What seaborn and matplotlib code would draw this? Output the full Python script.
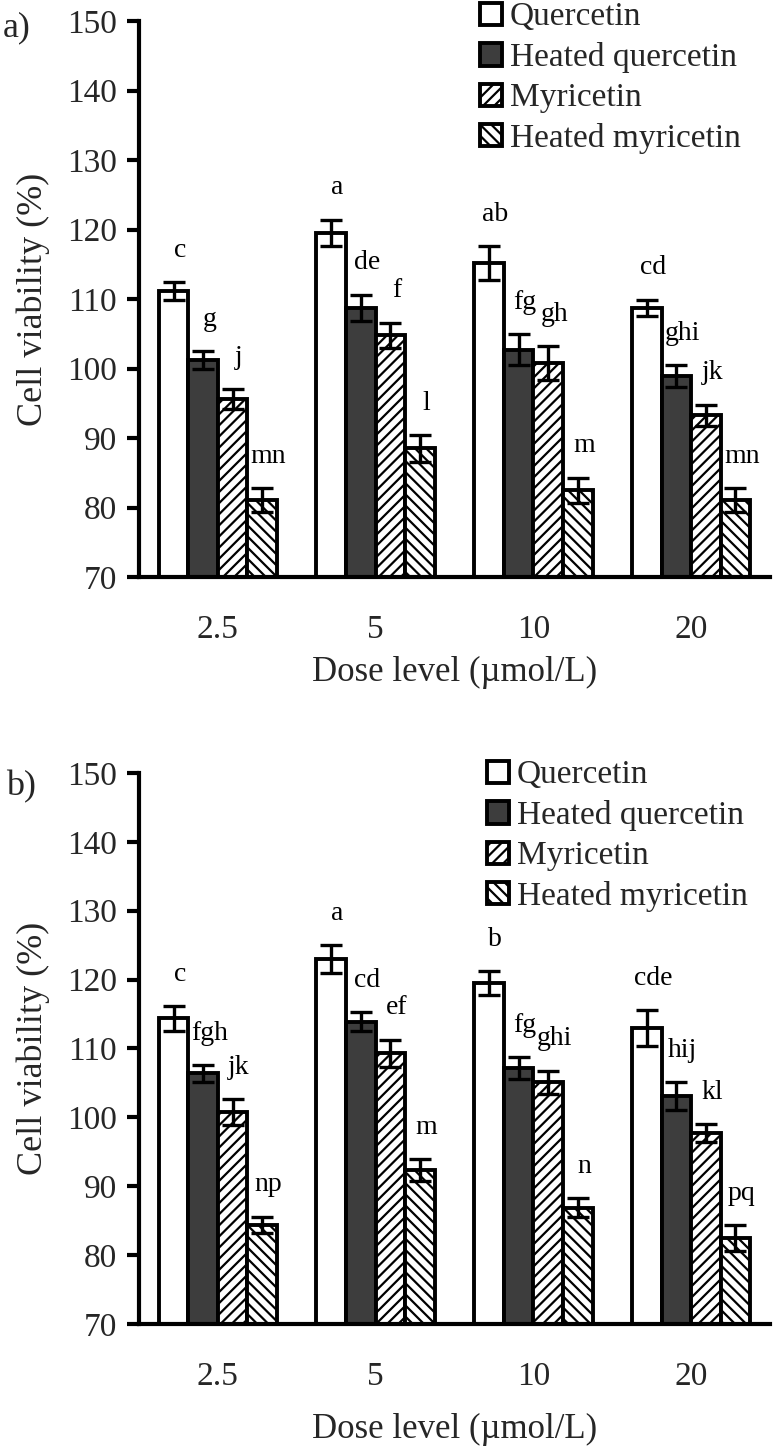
import numpy as np
import pandas as pd
import matplotlib
matplotlib.use("Agg")
import matplotlib.pyplot as plt
import seaborn as sns

# --- data ---
doses = ["2.5", "5", "10", "20"]
series = ["Quercetin", "Heated quercetin", "Myricetin", "Heated myricetin"]

# panel a)
a_quercetin = [111.1, 119.5, 115.2, 108.7]
a_heated_quercetin = [101.2, 108.7, 102.7, 98.9]
a_myricetin = [95.6, 104.8, 100.8, 93.3]
a_heated_myricetin = [81.1, 88.5, 82.5, 81.1]
a_err_quercetin = [1.3, 1.9, 2.4, 1.2]
a_err_heated_quercetin = [1.3, 1.9, 2.2, 1.6]
a_err_myricetin = [1.4, 1.8, 2.4, 1.5]
a_err_heated_myricetin = [1.7, 1.9, 1.8, 1.7]
a_letters = [["c", "a", "ab", "cd"],
             ["g", "de", "fg", "ghi"],
             ["j", "f", "gh", "jk"],
             ["mn", "l", "m", "mn"]]

# panel b)
b_quercetin = [114.4, 123.0, 119.5, 113.0]
b_heated_quercetin = [106.4, 113.9, 107.2, 103.1]
b_myricetin = [100.8, 109.3, 105.1, 97.7]
b_heated_myricetin = [84.4, 92.4, 86.9, 82.5]
b_err_quercetin = [1.8, 2.0, 1.7, 2.6]
b_err_heated_quercetin = [1.2, 1.4, 1.6, 2.0]
b_err_myricetin = [1.9, 2.0, 1.7, 1.3]
b_err_heated_myricetin = [1.2, 1.6, 1.4, 1.9]
b_letters = [["c", "a", "b", "cde"],
             ["fgh", "cd", "fg", "hij"],
             ["jk", "ef", "ghi", "kl"],
             ["np", "m", "n", "pq"]]

fills = ["white", "#3d3d3d", "white", "white"]
hatches = [None, None, "///", "\\\\\\"]

sns.set_theme(style="white")
plt.rcParams["font.family"] = ["Liberation Serif", "DejaVu Serif"]
plt.rcParams["hatch.linewidth"] = 1.6
plt.rcParams["hatch.color"] = "black"


def draw_panel(ax, values, errors, letters, legend_anchor):
    df = pd.DataFrame({
        "dose": np.repeat([doses], len(series), axis=0).ravel(),
        "series": np.repeat(series, len(doses)),
        "value": np.ravel(values),
    })
    sns.barplot(data=df, x="dose", y="value", hue="series", order=doses,
                hue_order=series, palette=fills, width=0.75, errorbar=None,
                edgecolor="black", linewidth=2.8, ax=ax, legend=False)

    bar_groups = list(ax.containers)
    for i, cont in enumerate(bar_groups):
        xs = []
        for bar in cont.patches:
            bar.set_hatch(hatches[i])
            bar.set_edgecolor("black")
            xs.append(bar.get_x() + bar.get_width() / 2)
        ax.errorbar(xs, values[i], yerr=errors[i], fmt="none", ecolor="black",
                    elinewidth=2.4, capsize=8, capthick=2.4, zorder=5)
        for x, v, e, t in zip(xs, values[i], errors[i], letters[i]):
            ax.text(x + 0.04, v + e + 4.6, t, ha="center", va="center",
                    fontsize=20, color="black")

    ax.set_ylim(70, 150)
    ax.set_xlim(-0.5, 3.5)
    ax.set_yticks(range(70, 151, 10))
    for side in ["top", "right"]:
        ax.spines[side].set_visible(False)
    for side in ["left", "bottom"]:
        ax.spines[side].set_linewidth(3.0)
        ax.spines[side].set_color("black")
    ax.tick_params(axis="y", length=9, width=3.0, pad=7, labelsize=24,
                   direction="out", left=True, color="black")
    ax.tick_params(axis="x", length=0, pad=27, labelsize=24)

    ax.set_ylabel("Cell viability (%)", fontsize=26, va="center")
    ax.yaxis.set_label_coords(-0.168, 0.5)

    ax.legend(handles=bar_groups, labels=series, loc="upper left",
              bbox_to_anchor=legend_anchor, bbox_transform=ax.figure.transFigure,
              frameon=False, borderpad=0, borderaxespad=0, fontsize=24,
              handlelength=0.65, handleheight=0.65, handletextpad=0.25,
              labelspacing=0.29)


fig = plt.figure(figsize=(7.74, 14.51), dpi=100)
ax_a = fig.add_axes([0.1796, 0.6023, 0.8152, 0.3832])
ax_b = fig.add_axes([0.1796, 0.0875, 0.8152, 0.3798])

draw_panel(ax_a,
           [a_quercetin, a_heated_quercetin, a_myricetin, a_heated_myricetin],
           [a_err_quercetin, a_err_heated_quercetin, a_err_myricetin, a_err_heated_myricetin],
           a_letters, (480 / 774, 1 - 2 / 1451))
draw_panel(ax_b,
           [b_quercetin, b_heated_quercetin, b_myricetin, b_heated_myricetin],
           [b_err_quercetin, b_err_heated_quercetin, b_err_myricetin, b_err_heated_myricetin],
           b_letters, (487 / 774, 1 - 760 / 1451))

ax_a.set_xlabel("Dose level (\u00b5mol/L)", fontsize=25, va="center")
ax_a.xaxis.set_label_coords(0.5, -0.171)
ax_b.set_xlabel("Dose level (\u00b5mol/L)", fontsize=25, va="center")
ax_b.xaxis.set_label_coords(0.5, -0.192)

fig.text(17 / 774, 1 - 28 / 1451, "a)", fontsize=26, ha="center", va="center")
fig.text(21 / 774, 1 - 787 / 1451, "b)", fontsize=26, ha="center", va="center")

fig.savefig("out.png", dpi=100)
